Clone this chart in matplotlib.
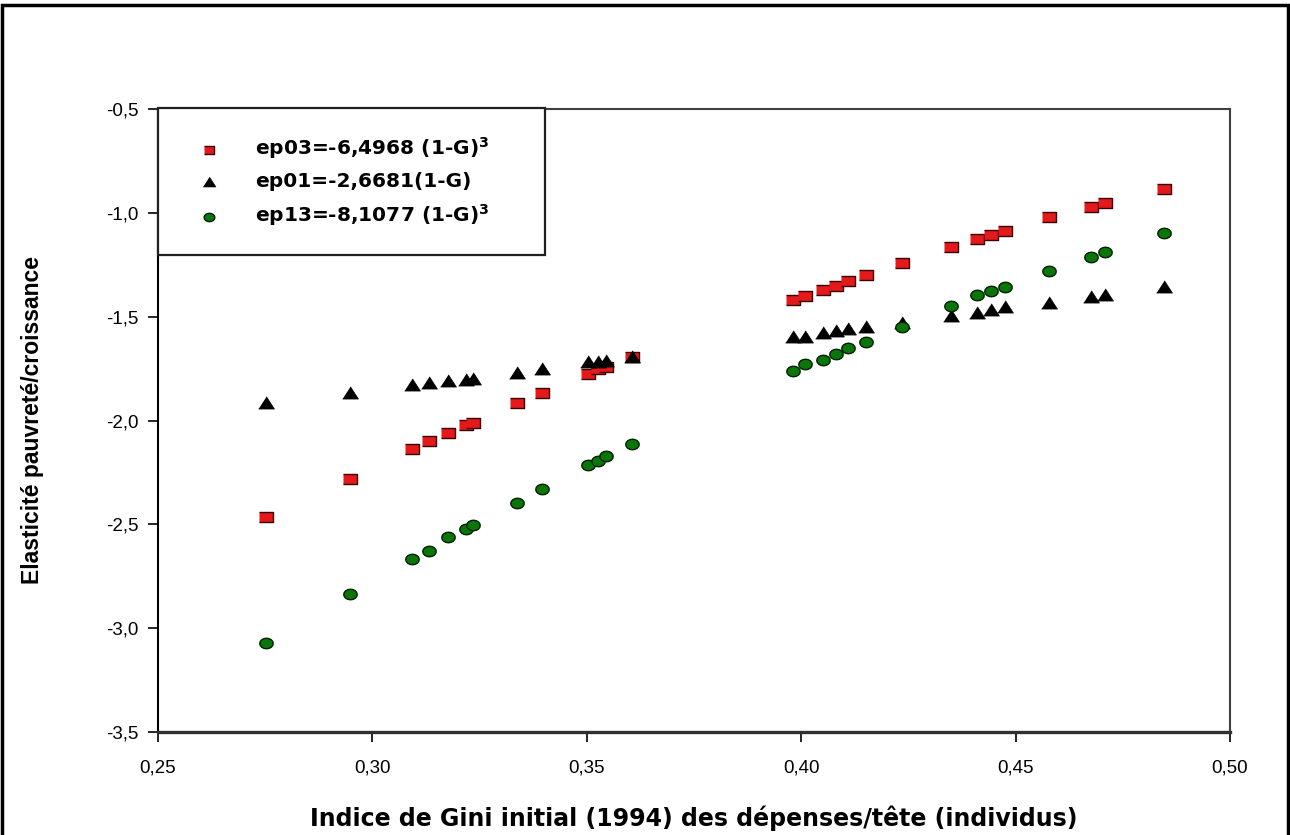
import matplotlib
matplotlib.use("Agg")
import numpy as np
import matplotlib.pyplot as plt
from matplotlib.patches import Rectangle
from matplotlib.ticker import FuncFormatter

plt.rcParams['font.family'] = ['Liberation Sans', 'DejaVu Sans']
plt.rcParams['mathtext.fontset'] = 'custom'
plt.rcParams['mathtext.rm'] = 'DejaVu Sans:bold'
plt.rcParams['mathtext.bf'] = 'DejaVu Sans:bold'
plt.rcParams['mathtext.default'] = 'bf'

# indice de Gini initial (1994)
gini = [0.2753, 0.2948, 0.3092, 0.3133, 0.3177, 0.3218, 0.3234, 0.3337, 0.3395,
        0.3503, 0.3527, 0.3544, 0.3605, 0.398, 0.401, 0.405, 0.408, 0.411, 0.415,
        0.4234, 0.4350, 0.4411, 0.4443, 0.4475, 0.4578, 0.4676, 0.4708, 0.4845]

# elasticites
ep03 = [-2.464, -2.282, -2.138, -2.098, -2.059, -2.022, -2.013, -1.916, -1.868,
        -1.775, -1.752, -1.742, -1.695, -1.42, -1.40, -1.37, -1.35, -1.33, -1.30,
        -1.243, -1.165, -1.126, -1.107, -1.088, -1.020, -0.974, -0.953, -0.885]
ep01 = [-1.918, -1.868, -1.828, -1.820, -1.812, -1.804, -1.799, -1.772, -1.752,
        -1.716, -1.716, -1.712, -1.692, -1.60, -1.60, -1.58, -1.57, -1.56, -1.55,
        -1.53, -1.499, -1.480, -1.467, -1.454, -1.435, -1.403, -1.395, -1.359]
ep13 = [-3.072, -2.835, -2.668, -2.628, -2.559, -2.523, -2.504, -2.398, -2.330,
        -2.213, -2.193, -2.173, -2.114, -1.76, -1.73, -1.71, -1.68, -1.65, -1.62,
        -1.55, -1.451, -1.395, -1.375, -1.355, -1.279, -1.213, -1.189, -1.097]

labels = ['ep03=-6,4968 (1-G)$^3$', 'ep01=-2,6681(1-G)', 'ep13=-8,1077 (1-G)$^3$']
xticks = [0.25, 0.30, 0.35, 0.40, 0.45, 0.50]
yticks = [-3.5, -3.0, -2.5, -2.0, -1.5, -1.0, -0.5]

# formes des marqueurs (un peu aplaties comme dans l'original)
sq = [(-1, -0.8), (1, -0.8), (1, 0.8), (-1, 0.8)]
tri = [(-1, -0.7), (1, -0.7), (0, 0.85)]
t = np.linspace(0, 2 * np.pi, 17)
ell = list(zip(np.cos(t), 0.78 * np.sin(t)))

W, H = 1290, 835
fig = plt.figure(figsize=(W / 100, H / 100), dpi=100)
ax = fig.add_axes([158 / W, 103 / H, 1072 / W, 623 / H])

s1 = ax.scatter(gini, ep03, marker=sq, s=95, color='#e3191b', edgecolors='#3a0000', linewidths=1.0, zorder=3)
s2 = ax.scatter(gini, ep01, marker=tri, s=130, color='black', edgecolors='black', linewidths=0.5, zorder=4)
s3 = ax.scatter(gini, ep13, marker=ell, s=95, color='#0a760a', edgecolors='#002000', linewidths=1.0, zorder=5)

ax.set_xlim(0.25, 0.50)
ax.set_ylim(-3.5, -0.5)
ax.set_xticks(xticks)
ax.set_yticks(yticks)
ax.xaxis.set_major_formatter(FuncFormatter(lambda v, p: ('%.2f' % v).replace('.', ',')))
ax.yaxis.set_major_formatter(FuncFormatter(lambda v, p: ('%.1f' % v).replace('.', ',')))
ax.tick_params(direction='out', length=7, width=1.2, labelsize=13.5, colors='black')
ax.tick_params(axis='x', pad=13, labelsize=13.5)
ax.tick_params(axis='y', pad=7)

for side in ['top', 'right']:
    ax.spines[side].set_linewidth(1.5)
    ax.spines[side].set_color('#404040')
ax.spines['left'].set_linewidth(1.5)
ax.spines['bottom'].set_linewidth(2.4)
ax.spines['bottom'].set_color('#303030')

ax.set_xlabel('Indice de Gini initial (1994) des dépenses/tête (individus)',
              fontsize=17, fontweight='bold', family=['DejaVu Sans'])
ax.xaxis.set_label_coords(0.5, -0.118)
ax.set_ylabel('Elasticité pauvreté/croissance', fontsize=16.5, fontweight='bold')
ax.yaxis.set_label_coords(-0.106, 0.5)

leg = ax.legend([s1, s2, s3], labels, loc='upper left', mode='expand',
                bbox_to_anchor=(158 / W, 1 - 253 / H, 387 / W, 145 / H),
                bbox_transform=fig.transFigure, borderaxespad=0,
                prop={'family': 'DejaVu Sans', 'weight': 'bold', 'size': 14.5},
                fancybox=False, edgecolor='#202020', framealpha=1,
                borderpad=1.35, labelspacing=0.55, handlelength=2.4,
                handletextpad=1.05, scatterpoints=1, markerscale=0.8)
leg.get_frame().set_linewidth(1.6)

# cadre exterieur
fig.patches.append(Rectangle((1.5 / W, -0.05), (W - 4) / W, 1.05 - 5 / H,
                             transform=fig.transFigure, fill=False,
                             edgecolor='black', linewidth=2.5))

fig.savefig('out.png', dpi=100, facecolor='white')
